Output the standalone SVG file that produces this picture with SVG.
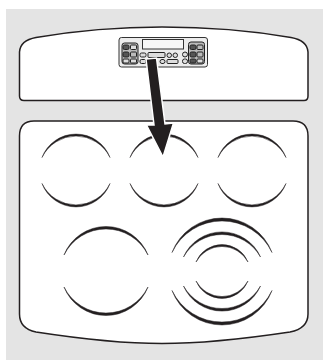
<svg xmlns="http://www.w3.org/2000/svg" width="323" height="360" viewBox="0 0 323 360">
<style>
.p{fill:#fff;stroke:#231f20;stroke-width:1.5}
.a{fill:#231f20;stroke:#231f20;stroke-width:.5;stroke-linejoin:round}
.c{fill:#ececec;stroke:#333;stroke-width:1}
.f{fill:#bbb;stroke:#222;stroke-width:1}
.b{fill:#ddd;stroke:#222;stroke-width:1}
.d{fill:#555;stroke:#222;stroke-width:1}
</style>
<defs>
<path id="s" d="M-34,-13A36.4 36.4 0 0 1 34,-13A37.7 37.7 0 0 0 -34,-13Z"/>
<path id="l" d="M-42,-16A45.2 45.2 0 0 1 42,-16A46.9 46.9 0 0 0 -42,-16Z"/>
<path id="r3" d="M-50,-19A53.5 53.5 0 0 1 50,-19A55.4 55.4 0 0 0 -50,-19Z"/>
<path id="r2" d="M-38.5,-14.5A42.1 42.1 0 0 1 38.5,-14.5A44.2 44.2 0 0 0 -38.5,-14.5Z"/>
<path id="r1" d="M-26,-9.5A28.1 28.1 0 0 1 26,-9.5A29.5 29.5 0 0 0 -26,-9.5Z"/>
</defs>
<rect x="6" y="9" width="317" height="351" fill="#e4e4e4"/>
<g id="top-panel"><path class="p" d="M19.500,52C20,44 25,39.500 36,37.500C80,30 120,27 162,27C205,27 248,30 291,37.500C302,39.500 307.500,44 308,52V96Q308,100.500 304,100.500H24Q19.500,100.500 19.500,96Z"/></g>
<g id="bottom-panel"><path class="p" d="M34,121H293Q308,121 308,136V314C308,325 300,330 290,332C250,338 205,343.500 162,343.500C120,343.500 75,338 36,332C26,330 19.500,325 19.500,314V136Q19.500,121 34,121Z"/></g>
<g id="burner-1" class="a"><use href="#s" transform="translate(76,170.500)"/><use href="#s" transform="translate(76,170.500) scale(1,-1)"/></g>
<g id="burner-2" class="a"><use href="#s" transform="translate(164,170.500)"/><use href="#s" transform="translate(164,170.500) scale(1,-1)"/></g>
<g id="burner-3" class="a"><use href="#s" transform="translate(252,170.500)"/><use href="#s" transform="translate(252,170.500) scale(1,-1)"/></g>
<g id="burner-4" class="a"><use href="#l" transform="translate(106,271)"/><use href="#l" transform="translate(106,271) scale(1,-1)"/></g>
<g id="burner-5" class="a">
<use href="#r3" transform="translate(222,271.500)"/><use href="#r3" transform="translate(222,271.500) scale(1,-1)"/>
<use href="#r2" transform="translate(222,271.500)"/><use href="#r2" transform="translate(222,271.500) scale(1,-1)"/>
<use href="#r1" transform="translate(222,271.500)"/><use href="#r1" transform="translate(222,271.500) scale(1,-1)"/>
</g>
<g id="control-panel">
<rect class="c" x="119" y="37.500" width="88.500" height="29.500" rx="2.500"/>
<rect x="142.500" y="39.500" width="41" height="9.500" fill="#f7f7f7" stroke="#333" stroke-width="1"/>
<rect class="f" x="122" y="43" width="16" height="21" rx="2.500"/>
<rect class="f" x="188.500" y="42" width="16" height="22" rx="2.500"/>
<rect class="d" x="123" y="45" width="6" height="4.500" rx="1.500"/><rect class="b" x="130.500" y="45" width="6" height="4.500" rx="1"/>
<rect class="d" x="123" y="52" width="6" height="5" rx="1.500"/><rect class="f" x="130.500" y="52" width="6" height="5" rx="1"/>
<rect class="b" x="123" y="59" width="6" height="4" rx="1"/><rect class="b" x="130.500" y="59" width="6" height="4" rx="1"/>
<rect class="d" x="190" y="45" width="6" height="4.500" rx="1.500"/><rect class="f" x="197" y="45" width="6" height="4.500" rx="1"/>
<rect class="d" x="190" y="52" width="6" height="5" rx="1.500"/><rect class="f" x="197" y="52" width="6" height="5" rx="1"/>
<rect class="d" x="190" y="59" width="6" height="4" rx="1.500"/><rect class="b" x="197" y="59" width="6" height="4" rx="1"/>
<rect class="b" x="140" y="53" width="6" height="4" rx="1.500"/><rect class="b" x="140" y="59.500" width="6" height="4" rx="1.500"/>
<rect class="b" x="148" y="52.500" width="17" height="5" rx="1"/>
<rect class="b" x="167" y="53" width="4.500" height="4.500" rx="2.200"/><rect class="b" x="173" y="53" width="4.500" height="4.500" rx="2.200"/>
<rect class="b" x="160" y="59.500" width="5" height="4" rx="2"/><rect class="b" x="167" y="59.500" width="11" height="4" rx="1"/>
<rect class="b" x="182.500" y="52" width="5" height="5" rx="2.500"/><rect class="b" x="182.500" y="59" width="5" height="4.500" rx="2"/>
</g>
<g id="connectors">
<path d="M146,59L156.500,58L165,124L173.500,123L163,157L146.500,125L154,125Z" fill="#231f20" stroke="#fff" stroke-width="1.500" stroke-linejoin="miter"/>
</g>
</svg>
